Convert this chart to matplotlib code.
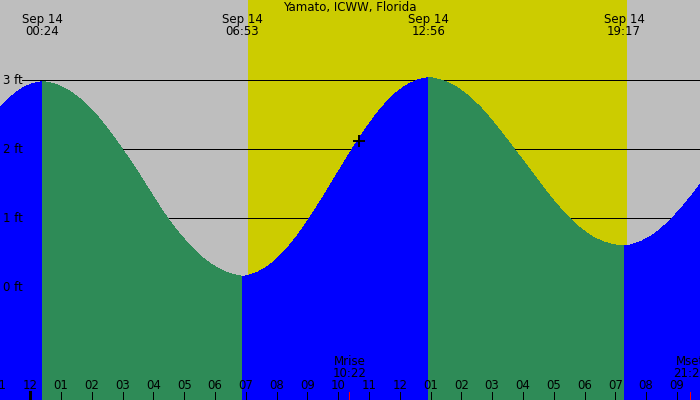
import matplotlib
matplotlib.use("Agg")
import matplotlib.pyplot as plt
from matplotlib.path import Path
from matplotlib.patches import PathPatch

# tide curve: hours after midnight Sep 14, height in ft
reading_hours = [
    -0.98, -0.5, 0.0, 0.4, 0.5, 1.0, 1.5, 2.0, 2.5, 3.0, 3.5, 4.0, 4.5, 5.0,
    5.5, 6.0, 6.5, 6.883, 7.0, 7.5, 8.0, 8.5, 9.0, 9.5, 10.0, 10.5, 11.0,
    11.5, 12.0, 12.5, 12.933, 13.0, 13.5, 14.0, 14.5, 15.0, 15.5, 16.0,
    16.5, 17.0, 17.5, 18.0, 18.5, 19.0, 19.283, 19.5, 20.0, 20.5, 21.0,
    21.5, 21.75,
]
reading_heights = [
    2.61, 2.82, 2.95, 2.98, 2.98, 2.92, 2.78, 2.58, 2.31, 2.00, 1.67, 1.31,
    0.97, 0.69, 0.46, 0.29, 0.19, 0.16, 0.16, 0.23, 0.40, 0.64, 0.95, 1.30,
    1.67, 2.04, 2.37, 2.66, 2.87, 3.00, 3.04, 3.04, 2.99, 2.86, 2.67, 2.42,
    2.13, 1.84, 1.54, 1.25, 1.00, 0.80, 0.67, 0.61, 0.60, 0.61, 0.69, 0.85,
    1.07, 1.34, 1.49,
]

# high / low water events
event_times = ["00:24", "06:53", "12:56", "19:17"]
event_dates = ["Sep 14", "Sep 14", "Sep 14", "Sep 14"]

sunrise = "07:04"
sunset = "19:23"
moon_events = [("Mrise", "10:22"), ("Mset", "21:26")]
now_marker = (10.68, 2.12)

height_levels = [0, 1, 2, 3]
hour_ticks = list(range(-1, 22))
title = "Yamato, ICWW, Florida"

GREY = "#bebebe"
YELLOW = "#cccc00"
GREEN = "#2e8b57"
BLUE = "#0000ff"
FONT = 8.5
PX = 0.72
BOTTOM = -2


def to_hours(clock):
    hh, mm = clock.split(":")
    return int(hh) + int(mm) / 60


def smooth_area(xs, ys):
    # quadratic bezier through the midpoints of the readings, closed to the bottom
    verts = [(xs[0], BOTTOM), (xs[0], ys[0])]
    codes = [Path.MOVETO, Path.LINETO]
    if len(xs) > 2:
        verts.append(((xs[0] + xs[1]) / 2, (ys[0] + ys[1]) / 2))
        codes.append(Path.LINETO)
        for i in range(1, len(xs) - 1):
            verts += [(xs[i], ys[i]), ((xs[i] + xs[i + 1]) / 2, (ys[i] + ys[i + 1]) / 2)]
            codes += [Path.CURVE3, Path.CURVE3]
    verts += [(xs[-1], ys[-1]), (xs[-1], BOTTOM), (xs[0], BOTTOM)]
    codes += [Path.LINETO, Path.LINETO, Path.CLOSEPOLY]
    return Path(verts, codes)


fig = plt.figure(figsize=(7, 4), dpi=100, facecolor=GREY)
ax = fig.add_axes([0, 0, 1, 1])
ax.set_facecolor(GREY)
for spine in ax.spines.values():
    spine.set_visible(False)
ax.set_xticks([])
ax.set_yticks([])
ax.set_xlim(reading_hours[0], reading_hours[-1])
ax.set_ylim(-1.633, 4.164)

ax.axvspan(to_hours(sunrise), to_hours(sunset), color=YELLOW, lw=0, zorder=0)

for level in height_levels:
    if level > 0:
        ax.axhline(level, xmin=22 / 700, xmax=1, color="black", lw=PX, zorder=1)
    ax.text(3 / 700, level, f"{level} ft", transform=ax.get_yaxis_transform(),
            ha="left", va="center", fontsize=FONT, zorder=4)

# fill the tide curve, blue while rising and green while falling
bounds = [reading_hours[0]] + [to_hours(t) for t in event_times] + [reading_hours[-1]]
for start, end in zip(bounds[:-1], bounds[1:]):
    seg = [(h, v) for h, v in zip(reading_hours, reading_heights)
           if start - 0.01 <= h <= end + 0.01]
    xs = [p[0] for p in seg]
    ys = [p[1] for p in seg]
    color = BLUE if ys[-1] > ys[0] else GREEN
    ax.add_patch(PathPatch(smooth_area(xs, ys), facecolor=color, lw=0,
                           antialiased=False, zorder=2))

ax.plot(*now_marker, marker="+", color="black", markersize=8.5, mew=1.4, zorder=5)

ax.text(0.5, 1 - 7.5 / 400, title, transform=ax.transAxes, ha="center",
        va="center", fontsize=FONT, zorder=4)
for date, clock in zip(event_dates, event_times):
    x = to_hours(clock)
    ax.text(x, 1 - 20 / 400, date, transform=ax.get_xaxis_transform(),
            ha="center", va="center", fontsize=FONT, zorder=4)
    ax.text(x, 1 - 31.7 / 400, clock, transform=ax.get_xaxis_transform(),
            ha="center", va="center", fontsize=FONT, zorder=4)

for hour in hour_ticks:
    label = hour % 12
    label = "12" if label == 0 else f"{label:02d}"
    width = 3 * PX if hour % 24 == 0 else PX
    ax.axvline(hour, ymin=0, ymax=8 / 400, color="black", lw=width, zorder=4)
    ax.text(hour, 14.3 / 400, label, transform=ax.get_xaxis_transform(),
            ha="center", va="center", fontsize=FONT, zorder=4)

for name, clock in moon_events:
    x = to_hours(clock)
    ax.axvline(x, ymin=0, ymax=8 / 400, color="red", lw=PX, zorder=4)
    ax.text(x, 38.3 / 400, name, transform=ax.get_xaxis_transform(),
            ha="center", va="center", fontsize=FONT, zorder=4)
    ax.text(x, 26.7 / 400, clock, transform=ax.get_xaxis_transform(),
            ha="center", va="center", fontsize=FONT, zorder=4)

fig.savefig("out.png", dpi=100, facecolor=GREY)
